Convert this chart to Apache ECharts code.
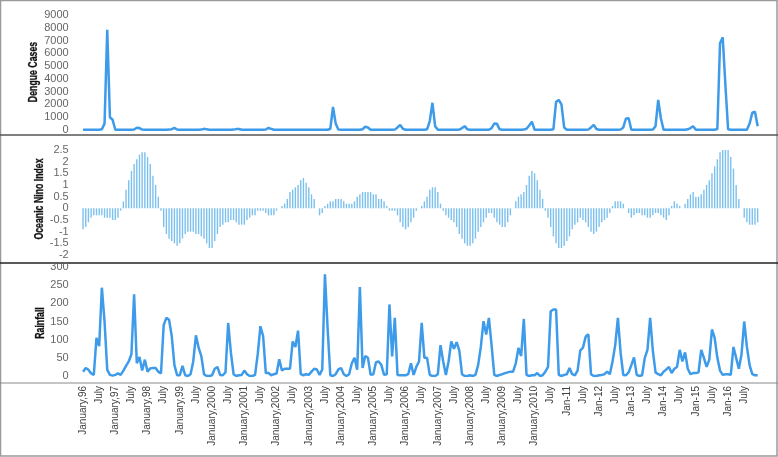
<!DOCTYPE html>
<html>
<head>
<meta charset="utf-8">
<script src="https://cdn.jsdelivr.net/npm/echarts@6/dist/echarts.min.js"></script>
<style>
  html, body { margin: 0; padding: 0; background: #fff; }
  #chart { width: 778px; height: 457px; }
</style>
</head>
<body>
<div id="chart"></div>
<script>
// January tick label for each year, July is labelled in between
const yearLabels = [
  "January,96", "January,97", "January,98", "January,99", "January,2000",
  "January,2001", "January,2002", "January,2003", "January,2004", "January,2005",
  "January,2006", "January,2007", "January,2008", "January,2009", "January,2010",
  "Jan-11", "Jan-12", "Jan-13", "Jan-14", "Jan-15", "Jan-16"
];
const midYearLabel = "July";
const panelTitles = ["Dengue Cases", "Oceanic Nino Index", "Rainfall"];

// monthly dengue cases, one row per year (1996 .. 2016)
const dengue = [
  20, 20, 20, 20, 20, 20, 20, 60, 500, 7850, 1000, 800,
  20, 20, 20, 20, 20, 20, 20, 40, 180, 150, 30, 20,
  20, 20, 20, 20, 20, 20, 20, 20, 30, 60, 160, 40,
  20, 20, 20, 20, 20, 20, 20, 20, 30, 90, 50, 20,
  20, 20, 20, 20, 20, 20, 20, 20, 30, 70, 80, 20,
  20, 20, 20, 20, 20, 20, 20, 20, 40, 160, 90, 20,
  20, 20, 20, 20, 20, 20, 20, 20, 20, 20, 20, 20,
  20, 20, 20, 20, 20, 20, 20, 20, 100, 1800, 500, 40,
  20, 20, 20, 20, 20, 20, 20, 20, 60, 260, 200, 20,
  20, 20, 20, 20, 20, 20, 20, 20, 30, 200, 390, 100,
  20, 20, 20, 20, 20, 20, 20, 20, 50, 700, 2130, 300,
  20, 20, 20, 20, 20, 20, 20, 20, 30, 150, 300, 50,
  20, 20, 20, 20, 20, 20, 20, 20, 150, 500, 480, 50,
  20, 20, 20, 20, 20, 20, 20, 20, 30, 100, 350, 650,
  20, 20, 20, 20, 20, 20, 20, 50, 2200, 2350, 2000, 200,
  20, 20, 20, 20, 20, 20, 20, 20, 30, 200, 400, 80,
  20, 20, 20, 20, 20, 20, 20, 20, 30, 200, 900, 920,
  20, 20, 20, 20, 20, 20, 20, 20, 30, 300, 2350, 900,
  20, 20, 20, 20, 20, 20, 20, 20, 20, 50, 150, 300,
  20, 20, 20, 20, 20, 20, 20, 20, 80, 6780, 7250, 3500,
  50, 20, 20, 20, 20, 20, 20, 20, 500, 1350, 1430, 300
];

// monthly Oceanic Nino Index
const oni = [
  -0.9, -0.8, -0.6, -0.4, -0.3, -0.3, -0.3, -0.3, -0.4, -0.4, -0.4, -0.5,
  -0.5, -0.4, -0.1, 0.3, 0.8, 1.2, 1.6, 1.9, 2.1, 2.3, 2.4, 2.4,
  2.2, 1.9, 1.4, 1.0, 0.5, -0.1, -0.8, -1.1, -1.3, -1.4, -1.5, -1.6,
  -1.5, -1.3, -1.1, -1.0, -1.0, -1.0, -1.1, -1.1, -1.2, -1.3, -1.5, -1.7,
  -1.7, -1.4, -1.1, -0.8, -0.7, -0.6, -0.6, -0.5, -0.5, -0.6, -0.7, -0.7,
  -0.7, -0.5, -0.4, -0.3, -0.3, -0.1, -0.1, -0.1, -0.2, -0.3, -0.3, -0.3,
  -0.1, 0.0, 0.1, 0.2, 0.4, 0.7, 0.8, 0.9, 1.0, 1.2, 1.3, 1.1,
  0.9, 0.6, 0.4, 0.0, -0.3, -0.2, 0.1, 0.2, 0.3, 0.3, 0.4, 0.4,
  0.4, 0.3, 0.2, 0.2, 0.2, 0.3, 0.5, 0.6, 0.7, 0.7, 0.7, 0.7,
  0.6, 0.6, 0.4, 0.4, 0.3, 0.1, -0.1, -0.1, -0.1, -0.3, -0.6, -0.8,
  -0.9, -0.8, -0.6, -0.4, -0.1, 0.0, 0.1, 0.3, 0.5, 0.8, 0.9, 0.9,
  0.7, 0.2, -0.1, -0.3, -0.4, -0.5, -0.6, -0.8, -1.1, -1.3, -1.5, -1.6,
  -1.6, -1.5, -1.3, -1.0, -0.8, -0.6, -0.4, -0.2, -0.2, -0.4, -0.6, -0.7,
  -0.8, -0.8, -0.6, -0.3, 0.0, 0.3, 0.5, 0.6, 0.7, 1.0, 1.4, 1.6,
  1.5, 1.2, 0.8, 0.4, -0.1, -0.4, -0.8, -1.2, -1.5, -1.7, -1.7, -1.6,
  -1.4, -1.2, -0.9, -0.7, -0.6, -0.4, -0.5, -0.6, -0.8, -1.0, -1.1, -1.0,
  -0.8, -0.6, -0.5, -0.4, -0.2, 0.1, 0.3, 0.3, 0.3, 0.2, 0.0, -0.2,
  -0.4, -0.3, -0.2, -0.2, -0.3, -0.3, -0.4, -0.4, -0.3, -0.2, -0.2, -0.3,
  -0.4, -0.5, -0.3, 0.1, 0.3, 0.2, 0.1, 0.0, 0.2, 0.4, 0.6, 0.7,
  0.5, 0.5, 0.6, 0.8, 1.0, 1.2, 1.5, 1.8, 2.1, 2.4, 2.5, 2.6,
  2.5, 2.2, 1.7, 1.0, 0.4, 0.0, -0.4, -0.6, -0.7, -0.7, -0.7, -0.6
];

// monthly rainfall
const rainfall = [
  12, 22, 17, 7, 3, 105, 82, 243, 150, 17, 3, 1,
  3, 7, 3, 15, 28, 40, 60, 225, 35, 52, 15, 45,
  12, 21, 22, 22, 12, 7, 140, 160, 155, 110, 30, 2,
  2, 28, 2, 0, 5, 40, 112, 78, 55, 5, 0, 0,
  2, 20, 25, 3, 2, 10, 146, 65, 5, 0, 2, 3,
  15, 5, 0, 0, 3, 60, 137, 110, 8, 8, 2, 5,
  7, 46, 15, 20, 20, 20, 95, 80, 125, 5, 2, 5,
  3, 12, 20, 18, 3, 18, 280, 130, 2, 0, 5, 18,
  22, 5, 0, 5, 35, 50, 17, 245, 22, 55, 50, 3,
  5, 38, 40, 30, 3, 5, 197, 54, 160, 3, 2, 2,
  2, 5, 35, 3, 25, 40, 146, 50, 50, 3, 0, 0,
  5, 85, 40, 3, 40, 95, 75, 93, 70, 5, 0, 0,
  2, 0, 3, 30, 80, 151, 114, 160, 85, 3, 0, 3,
  5, 8, 10, 12, 12, 35, 77, 55, 157, 3, 0, 2,
  2, 8, 0, 2, 12, 25, 178, 183, 183, 3, 0, 3,
  5, 22, 5, 2, 15, 70, 78, 108, 115, 5, 0, 0,
  2, 3, 5, 12, 5, 40, 85, 160, 65, 3, 2, 10,
  30, 51, 3, 0, 2, 50, 72, 160, 70, 10, 5, 2,
  12, 18, 25, 8, 20, 25, 72, 40, 65, 20, 5, 8,
  8, 10, 72, 50, 25, 45, 128, 105, 50, 15, 3, 5,
  5, 3, 80, 50, 20, 60, 150, 80, 30, 5, 2, 2
];

// one category per month, only January and July carry a label
const months = [];
yearLabels.forEach((label) => {
  for (let m = 0; m < 12; m++) {
    months.push(m === 0 ? label : m === 6 ? midYearLabel : "");
  }
});

const lineColor = "#3d9be9";
const barColor = "#7cc0ee";
const narrow = "'Liberation Sans Narrow', sans-serif";
const tickText = {
  color: "#666", fontSize: 11, fontFamily: "'Liberation Sans', sans-serif", margin: 13,
  formatter: (v) => String(v)
};

const gridLeft = 81.7;
const gridWidth = 677.3;

function xAxisFor(gridIndex, showLabels) {
  return {
    type: "category",
    gridIndex,
    data: months,
    boundaryGap: true,
    axisLine: { show: false },
    axisTick: { show: false },
    axisLabel: showLabels
      ? { show: true, interval: 5, rotate: 90, margin: 10, color: "#404040", fontSize: 10, fontFamily: narrow }
      : { show: false },
    splitLine: { show: false }
  };
}

function yAxisFor(gridIndex, min, max, interval) {
  return {
    type: "value",
    gridIndex,
    min,
    max,
    interval,
    axisLine: { show: false },
    axisTick: { show: false },
    splitLine: { show: false },
    axisLabel: tickText
  };
}

// vertical panel title, squeezed along its length like the condensed original
function panelTitle(text, x, y) {
  return {
    type: "text",
    x,
    y,
    rotation: Math.PI / 2,
    scaleX: 0.7,
    style: {
      text,
      font: "bold 12.5px 'Liberation Sans Narrow', sans-serif",
      fill: "#111",
      stroke: "#111",
      lineWidth: 0.3,
      align: "center",
      verticalAlign: "middle"
    }
  };
}

const chart = echarts.init(document.getElementById("chart"));
chart.setOption({
  animation: false,
  backgroundColor: "#fff",
  grid: [
    { left: gridLeft, width: gridWidth, top: 15, height: 115 },
    { left: gridLeft, width: gridWidth, top: 150, height: 105 },
    { left: gridLeft, width: gridWidth, top: 267, height: 109 }
  ],
  xAxis: [xAxisFor(0, false), xAxisFor(1, false), xAxisFor(2, true)],
  yAxis: [
    yAxisFor(0, 0, 9000, 1000),
    yAxisFor(1, -2, 2.5, 0.5),
    yAxisFor(2, 0, 300, 50)
  ],
  series: [
    {
      name: panelTitles[0],
      type: "line",
      xAxisIndex: 0,
      yAxisIndex: 0,
      data: dengue,
      symbol: "none",
      lineStyle: { color: lineColor, width: 2.5 }
    },
    {
      name: panelTitles[1],
      type: "bar",
      xAxisIndex: 1,
      yAxisIndex: 1,
      data: oni,
      barWidth: 1.4,
      itemStyle: { color: barColor }
    },
    {
      name: panelTitles[2],
      type: "line",
      xAxisIndex: 2,
      yAxisIndex: 2,
      data: rainfall,
      symbol: "none",
      lineStyle: { color: lineColor, width: 2.5 }
    }
  ],
  graphic: [
    { type: "rect", shape: { x: 0.5, y: 0.5, width: 776.5, height: 455.5 }, style: { fill: "none", stroke: "#9a9a9a", lineWidth: 1.5 } },
    { type: "line", shape: { x1: 0, y1: 135, x2: 778, y2: 135 }, style: { stroke: "#555", lineWidth: 1.5 } },
    { type: "line", shape: { x1: 0, y1: 263, x2: 778, y2: 263 }, style: { stroke: "#222", lineWidth: 1.5 } },
    { type: "line", shape: { x1: 0, y1: 383, x2: 778, y2: 383 }, style: { stroke: "#8a8a8a", lineWidth: 1 } },
    panelTitle(panelTitles[0], 33.5, 72),
    panelTitle(panelTitles[1], 39.5, 199),
    panelTitle(panelTitles[2], 40.5, 323)
  ]
});
</script>
</body>
</html>
